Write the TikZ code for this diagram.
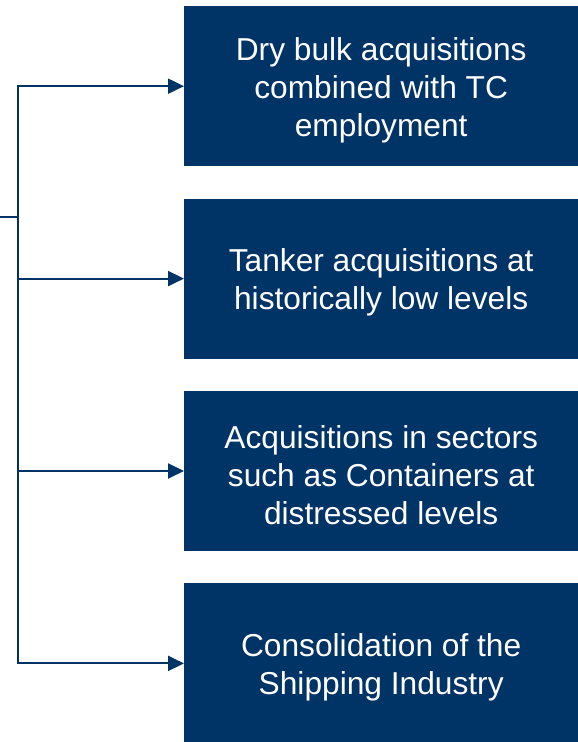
\documentclass[tikz,border=0pt]{standalone}
\usepackage{fontspec}
\setmainfont{Liberation Sans}
\usetikzlibrary{positioning,arrows.meta}
\definecolor{navy}{RGB}{0,51,102}

\begin{document}
\begin{tikzpicture}[x=1pt,y=1pt]

    \tikzset{
      box/.style={
        fill=navy,
        minimum width=394pt,
        minimum height=160pt,
        inner sep=0pt,
      },
      caption/.style={
        text=white,
        align=center,
        inner sep=0pt,
        yshift=-4pt,
        font=\fontsize{31.7}{38}\selectfont,
      },
      link/.style={
        draw=navy,
        line width=2pt,
        -{Triangle[length=16pt,width=15pt]},
      },
    }
    \useasboundingbox (0,0) rectangle (578,742);
    % stacked option boxes
    \node[box, anchor=north west, label={[caption]center:{Dry bulk acquisitions\\combined with TC\\employment}}] (dry) at (184,736) {};
    \node[box, below=32pt of dry, label={[caption]center:{Tanker acquisitions at\\historically low levels}}] (tanker) {};
    \node[box, below=32pt of tanker, label={[caption]center:{Acquisitions in sectors\\such as Containers at\\distressed levels}}] (boxship) {};
    \node[box, below=32pt of boxship, label={[caption]center:{Consolidation of the\\Shipping Industry}}] (consol) {};
    % feed line and branches
    \coordinate (feed) at (0,524.5);
    \coordinate (hub) at (18.3,524.5);
    \draw[navy, line width=2pt] (feed) -- (hub);
    \foreach \b in {dry,tanker,boxship,consol}
      \draw[link] (hub) |- (\b.west);

\end{tikzpicture}
\end{document}
